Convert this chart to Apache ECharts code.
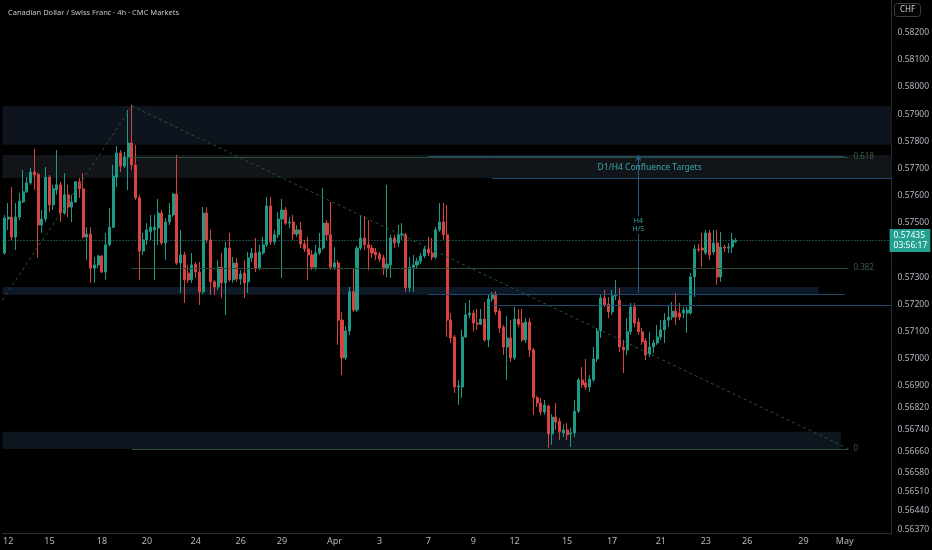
<!DOCTYPE html>
<html>
<head>
<meta charset="utf-8">
<script src="https://cdn.jsdelivr.net/npm/echarts@6/dist/echarts.min.js"></script>
<style>
  html, body { margin: 0; padding: 0; background: #000; }
  #chart { width: 932px; height: 550px; }
</style>
</head>
<body>
<div id="chart"></div>
<script>
// ---- data ----
const SLOTS = 237; // candle slots incl. empty future space on the right
const categories = Array.from({ length: SLOTS }, (_, i) => String(i));

const dateTicks = [[1,'12'],[12,'15'],[26,'18'],[38,'20'],[51,'24'],[63,'26'],[74,'29'],[88,'Apr'],[100,'3'],[113,'7'],[125,'9'],[136,'12'],[150,'15'],[162,'17'],[175,'21'],[187,'23'],[198,'26'],[213,'29'],[224,'May']];

const priceTicks = [0.582,0.581,0.580,0.579,0.578,0.577,0.576,0.575,0.573,0.572,0.571,0.570,0.569,0.5682,0.5674,0.5666,0.5658,0.5651,0.5644,0.5637];

const openP = [
.57389,.57514,.57521,.57448,.57521,.57577,.57614,.57647,.57687,.57679,
.57492,.57514,.57668,.57566,.57621,.57640,.57536,.57603,.57558,.57577,
.57651,.57625,.57448,.57459,.57333,.57345,.57378,.57319,.57419,.57484,
.57668,.57757,.57709,.57742,.57794,.57713,.57592,.57396,.57437,.57467,
.57474,.57481,.57536,.57426,.57503,.57529,.57606,.57352,.57382,.57315,
.57290,.57348,.57319,.57246,.57536,.57437,.57283,.57264,.57337,.57279,
.57407,.57290,.57352,.57293,.57315,.57283,.57371,.57389,.57333,.57389,
.57419,.57562,.57430,.57456,.57514,.57547,.57499,.57503,.57459,.57474,
.57422,.57404,.57382,.57337,.57389,.57407,.57499,.57456,.57337,.57352,
.57142,.57003,.57102,.57246,.57179,.57407,.57444,.57419,.57407,.57393,
.57385,.57371,.57330,.57345,.57444,.57426,.57456,.57456,.57261,.57337,
.57345,.57359,.57378,.57404,.57389,.57374,.57474,.57503,.57456,.57142,
.57080,.56896,.56896,.57080,.57161,.57168,.57131,.57127,.57146,.57069,
.57220,.57238,.57175,.57116,.57043,.57076,.57003,.57146,.57131,.57069,
.57135,.57032,.56856,.56837,.56804,.56826,.56723,.56785,.56770,.56727,
.56738,.56723,.56727,.56807,.56922,.56911,.56896,.56922,.56999,.57102,
.57223,.57201,.57172,.57231,.57216,.57043,.57032,.57099,.57190,.57135,
.57099,.57065,.57017,.57043,.57058,.57080,.57106,.57142,.57153,.57175,
.57168,.57168,.57168,.57168,.57301,.57404,.57407,.57389,.57463,.57393,
.57426,.57301,.57411,.57407,.57411,.57430];

const closeP = [
.57518,.57521,.57448,.57521,.57580,.57614,.57647,.57687,.57676,.57492,
.57514,.57668,.57566,.57625,.57640,.57536,.57603,.57558,.57577,.57651,
.57625,.57448,.57459,.57333,.57345,.57378,.57319,.57419,.57484,.57672,
.57757,.57709,.57742,.57794,.57713,.57592,.57396,.57437,.57474,.57484,
.57484,.57536,.57426,.57503,.57529,.57606,.57352,.57382,.57290,.57290,
.57345,.57319,.57246,.57536,.57437,.57283,.57264,.57337,.57279,.57407,
.57290,.57352,.57293,.57311,.57279,.57371,.57389,.57333,.57393,.57419,
.57562,.57430,.57456,.57514,.57547,.57499,.57503,.57459,.57474,.57422,
.57404,.57382,.57337,.57389,.57407,.57499,.57456,.57337,.57352,.57142,
.57003,.57102,.57246,.57179,.57407,.57444,.57419,.57407,.57389,.57382,
.57367,.57330,.57348,.57444,.57426,.57456,.57459,.57261,.57337,.57345,
.57359,.57378,.57404,.57389,.57374,.57474,.57503,.57456,.57142,.57076,
.56896,.56900,.57080,.57161,.57168,.57131,.57127,.57146,.57069,.57220,
.57238,.57172,.57113,.57043,.57076,.57003,.57146,.57127,.57069,.57135,
.57032,.56856,.56837,.56804,.56830,.56723,.56785,.56767,.56731,.56738,
.56720,.56727,.56807,.56922,.56904,.56896,.56925,.56999,.57102,.57223,
.57198,.57172,.57231,.57235,.57043,.57032,.57099,.57190,.57131,.57099,
.57062,.57014,.57043,.57058,.57080,.57106,.57142,.57153,.57175,.57153,
.57153,.57179,.57179,.57301,.57404,.57400,.57400,.57463,.57382,.57426,
.57301,.57411,.57407,.57411,.57437,.57435];

const highP = [
.57529,.57573,.57632,.57573,.57610,.57694,.57668,.57702,.57772,.57683,
.57547,.57705,.57676,.57640,.57768,.57651,.57683,.57640,.57603,.57654,
.57665,.57683,.57484,.57484,.57374,.57382,.57382,.57463,.57555,.57713,
.57783,.57768,.57761,.57915,.57934,.57787,.57603,.57463,.57499,.57529,
.57529,.57588,.57547,.57518,.57573,.57610,.57750,.57474,.57393,.57345,
.57389,.57356,.57356,.57558,.57558,.57474,.57290,.57363,.57389,.57430,
.57463,.57374,.57371,.57326,.57363,.57393,.57407,.57444,.57419,.57448,
.57595,.57595,.57474,.57540,.57588,.57558,.57521,.57529,.57492,.57503,
.57437,.57448,.57400,.57419,.57463,.57629,.57510,.57577,.57411,.57363,
.57172,.57120,.57264,.57333,.57415,.57525,.57525,.57510,.57419,.57407,
.57393,.57382,.57640,.57456,.57456,.57492,.57499,.57463,.57374,.57382,
.57371,.57389,.57415,.57448,.57444,.57484,.57573,.57573,.57566,.57168,
.57088,.56922,.57106,.57205,.57216,.57179,.57183,.57183,.57209,.57235,
.57246,.57249,.57186,.57124,.57157,.57142,.57190,.57183,.57183,.57149,
.57149,.57040,.56863,.56856,.56848,.56830,.56796,.56837,.56782,.56759,
.56763,.56745,.56848,.56929,.56969,.56999,.56940,.57043,.57113,.57238,
.57253,.57227,.57253,.57290,.57260,.57069,.57149,.57205,.57205,.57149,
.57113,.57076,.57099,.57069,.57124,.57142,.57168,.57198,.57209,.57242,
.57205,.57190,.57190,.57315,.57419,.57422,.57463,.57474,.57474,.57474,
.57474,.57467,.57419,.57426,.57463,.57444];

const lowP = [
.57382,.57474,.57437,.57400,.57510,.57573,.57610,.57640,.57621,.57371,
.57463,.57503,.57540,.57547,.57603,.57503,.57529,.57521,.57503,.57573,
.57592,.57444,.57363,.57279,.57279,.57333,.57315,.57290,.57415,.57481,
.57632,.57687,.57702,.57621,.57694,.57584,.57290,.57382,.57419,.57437,
.57290,.57419,.57419,.57363,.57492,.57521,.57345,.57242,.57205,.57279,
.57279,.57297,.57198,.57238,.57426,.57235,.57235,.57253,.57223,.57161,
.57283,.57279,.57283,.57272,.57223,.57242,.57356,.57319,.57326,.57382,
.57411,.57419,.57419,.57444,.57297,.57492,.57481,.57437,.57448,.57407,
.57393,.57290,.57326,.57326,.57382,.57400,.57437,.57326,.57326,.57051,
.56940,.56995,.57088,.57172,.57172,.57400,.57400,.57326,.57371,.57363,
.57356,.57308,.57300,.57297,.57407,.57411,.57437,.57246,.57246,.57246,
.57333,.57348,.57371,.57378,.57363,.57367,.57467,.57437,.57080,.57058,
.56874,.56830,.56856,.57076,.57149,.57099,.57106,.57124,.57062,.57043,
.57209,.57161,.57095,.57014,.56922,.56988,.56995,.57116,.57062,.57058,
.57006,.56793,.56822,.56793,.56793,.56672,.56683,.56738,.56701,.56712,
.56701,.56675,.56712,.56800,.56893,.56885,.56878,.56915,.56988,.57076,
.57190,.57149,.57161,.57216,.57025,.56947,.57014,.57088,.57116,.57088,
.57051,.56995,.57006,.57021,.57051,.57069,.57058,.57116,.57142,.57124,
.57142,.57149,.57095,.57161,.57227,.57393,.57337,.57382,.57363,.57382,
.57272,.57283,.57393,.57389,.57389,.57426];

const lastPrice = 0.57435;
const countdown = '03:56:17';

// overlay x positions are in slot units on a hidden continuous axis (-0.5 .. 236.5 = plot edges)
// zones [top, bottom, fromSlot, toSlot]
const zoneTop    = [0.57930, 0.57787, -0.5, 236.5];
const zoneMid    = [0.57750, 0.57665, -0.5, 236.5];
const zoneNeck   = [0.57264, 0.57235, -0.5, 217];
const zoneBottom = [0.56731, 0.56668, -0.5, 223];

// fib levels [label, price]
const fibLevels = [['0.618', 0.57742], ['0.382', 0.57333], ['0', 0.56668]];
const fibFrom = 34, fibTo = 225;

// horizontal target lines [price, fromSlot, toSlot]
const targetLines = [[0.57746,113,224],[0.57665,130,236.5],[0.57238,113,224],[0.57198,130,236.5]];

// dashed trend lines [[slot, price],[slot, price]]
const trendLines = [[[-0.5, 0.57216], [34, 0.57930]], [[34, 0.57930], [225, 0.56668]]];

// H/S projection arrow
const hsArrow = [[169, 0.57242], [169, 0.57750]];
const hsLabelAt = [169, 0.57492];
const confluenceAt = [172, 0.57705];

// ---- chart ----
const UP = '#1f9a87', DOWN = '#d8433f';
const TXT = '#b2b5be';
const FONT = 'Noto Sans';
const tickMap = new Map(dateTicks);

const candles = openP.map((o, i) => [o, closeP[i], lowP[i], highP[i]]);

function zoneArea(z, color) {
  return [
    { xAxis: z[2], yAxis: z[0], itemStyle: { color: color } },
    { xAxis: z[3], yAxis: z[1] }
  ];
}

const markLines = [];
fibLevels.forEach(([lbl, p]) => {
  markLines.push([
    { coord: [fibFrom, p], lineStyle: { color: '#2b4d35', width: 1, type: 'solid' },
      label: { show: true, position: 'end', formatter: lbl, color: '#3a5c44', fontSize: 8, distance: 5, fontFamily: FONT } },
    { coord: [fibTo, p] }
  ]);
});
targetLines.forEach(([p, a, b]) => {
  markLines.push([
    { coord: [a, p], lineStyle: { color: '#1d4a72', width: 1, type: 'solid' }, label: { show: false } },
    { coord: [b, p] }
  ]);
});
trendLines.forEach(([a, b]) => {
  markLines.push([
    { coord: a, lineStyle: { color: '#27553a', width: 1, type: [3, 3] }, label: { show: false } },
    { coord: b }
  ]);
});
markLines.push([
  { coord: hsArrow[0], symbol: 'none', lineStyle: { color: '#2c5879', width: 1, type: 'solid' }, label: { show: false } },
  { coord: hsArrow[1], symbol: 'arrow', symbolSize: [5, 6] }
]);
markLines.push([
  { coord: [-0.5, lastPrice],
    lineStyle: { color: '#2f8f84', width: 1, type: [1, 2] },
    label: {
      show: true, position: 'end', distance: -2,
      formatter: lastPrice.toFixed(5) + '\n' + countdown,
      backgroundColor: '#22a190', color: '#ffffff', padding: [2, 3, 1, 4],
      fontSize: 8.5, lineHeight: 10, fontFamily: FONT, align: 'left'
    } },
  { coord: [SLOTS - 0.5, lastPrice] }
]);

const option = {
  backgroundColor: '#000000',
  animation: false,
  textStyle: { fontFamily: FONT },
  title: [
    { text: 'Canadian Dollar / Swiss Franc · 4h · CMC Markets', left: 3, top: 4,
      textStyle: { color: '#c3c6ce', fontSize: 7.5, fontWeight: 'normal', fontFamily: FONT } },
    { text: 'CHF', left: 894, top: 3, padding: [3, 6, 3, 6], borderColor: '#3a3d45', borderWidth: 1, borderRadius: 3,
      textStyle: { color: '#d1d4dc', fontSize: 8, fontWeight: 'normal', fontFamily: FONT } }
  ],
  grid: { left: 0, right: 40, top: 0, bottom: 17, containLabel: false },
  xAxis: [
    {
      type: 'category', data: categories, boundaryGap: true,
      axisLine: { show: true, onZero: false, lineStyle: { color: '#2a2e39' } },
      axisTick: { show: false },
      splitLine: { show: false },
      axisLabel: {
        interval: (idx) => tickMap.has(idx),
        formatter: (v, idx) => tickMap.get(idx) || '',
        color: TXT, fontSize: 9, margin: 4, fontFamily: FONT
      }
    },
    { type: 'value', min: -0.5, max: SLOTS - 0.5, show: false, axisLine: { onZero: false } }
  ],
  yAxis: {
    type: 'value', position: 'right', min: 0.563586, max: 0.5832, scale: true,
    axisLine: { show: true, onZero: false, lineStyle: { color: '#2a2e39' } },
    axisTick: { show: false },
    splitLine: { show: false },
    axisLabel: {
      customValues: priceTicks,
      formatter: (v) => v.toFixed(5),
      color: TXT, fontSize: 8.5, margin: 6, fontFamily: FONT
    }
  },
  series: [
    {
      type: 'line', data: [], xAxisIndex: 1, z: 1, clip: false, silent: true,
      markArea: {
        silent: true,
        data: [
          zoneArea(zoneTop, '#0d141d'),
          zoneArea(zoneMid, '#111419'),
          zoneArea(zoneNeck, '#0d1926'),
          zoneArea(zoneBottom, '#0d151e')
        ]
      }
    },
    {
      type: 'candlestick', data: candles, xAxisIndex: 0, z: 2, barWidth: '68%',
      itemStyle: { color: UP, color0: DOWN, borderColor: UP, borderColor0: DOWN, borderWidth: 1 }
    },
    {
      type: 'line', data: [], xAxisIndex: 1, z: 5, clip: false, silent: true,
      markLine: { silent: true, symbol: 'none', animation: false, data: markLines },
      markPoint: {
        silent: true,
        data: [
          { coord: confluenceAt, symbol: 'rect', symbolSize: 0,
            label: { show: true, position: 'inside', formatter: 'D1/H4 Confluence Targets', color: '#3aa9a6', fontSize: 8.5, fontFamily: FONT } },
          { coord: hsLabelAt, symbol: 'rect', symbolSize: 0,
            label: { show: true, position: 'inside', formatter: 'H4\nH/S', color: '#3aa9a6', fontSize: 7, lineHeight: 8,
              backgroundColor: '#000000', padding: [1, 1], fontFamily: FONT } }
        ]
      }
    }
  ]
};

const chart = echarts.init(document.getElementById('chart'), null, { renderer: 'canvas' });
chart.setOption(option);
</script>
</body>
</html>
